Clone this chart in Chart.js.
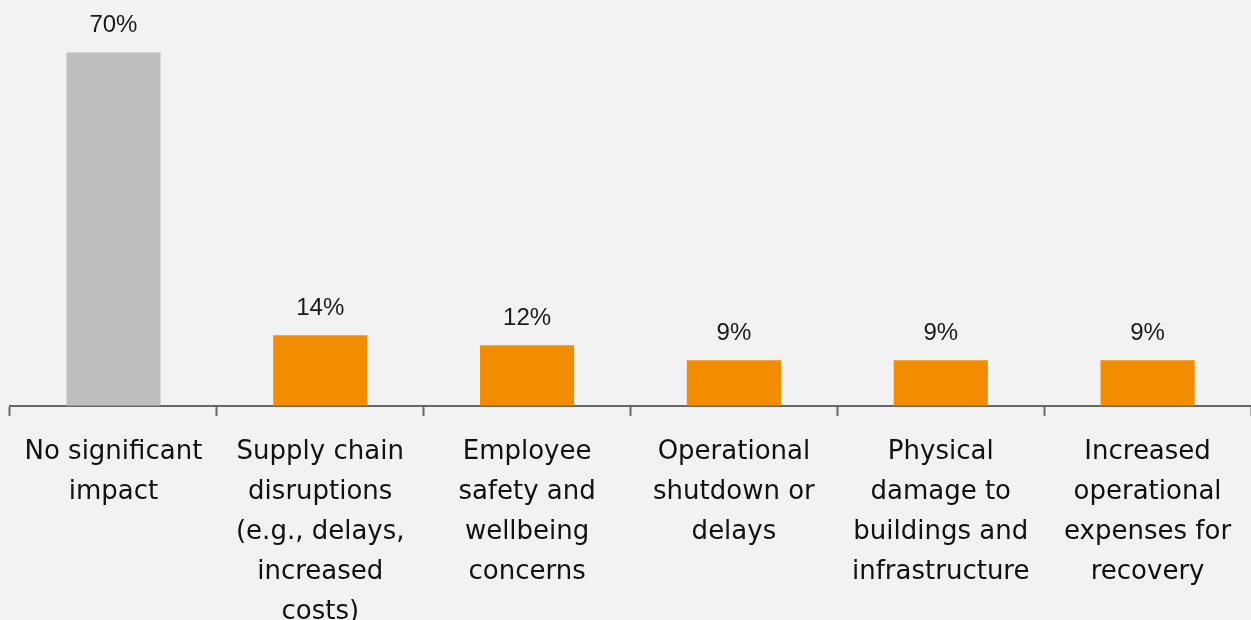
<!DOCTYPE html>
<html lang="en">
<head>
    <meta charset="UTF-8">
    <title>Business Impact</title>
    <style>
        body {
            margin: 0;
            background-color: #f2f2f2;
            overflow: hidden;
        }
        .chart-wrap {
            position: relative;
            width: 1251px;
            height: 648px;
        }
    </style>
    <script src="https://cdn.jsdelivr.net/npm/chart.js"></script>
</head>
<body>
    <div class="chart-wrap">
        <canvas id="impactChart"></canvas>
    </div>

    <script>
        // Categories (already split into lines)
        const categories = [
            ['No significant', 'impact'],
            ['Supply chain', 'disruptions', '(e.g., delays,', 'increased', 'costs)'],
            ['Employee', 'safety and', 'wellbeing', 'concerns'],
            ['Operational', 'shutdown or', 'delays'],
            ['Physical', 'damage to', 'buildings and', 'infrastructure'],
            ['Increased', 'operational', 'expenses for', 'recovery']
        ];

        // Share of respondents (%)
        const shares = [70, 14, 12, 9, 9, 9];

        const barColors = ['#bdbec0', '#f28c00', '#f28c00', '#f28c00', '#f28c00', '#f28c00'];

        // Simple value labels above each bar
        const valueLabels = {
            id: 'valueLabels',
            afterDatasetsDraw(chart) {
                const ctx = chart.ctx;
                const meta = chart.getDatasetMeta(0);
                ctx.save();
                ctx.font = '24px "Liberation Sans", Arial, sans-serif';
                ctx.fillStyle = '#1a1a1a';
                ctx.textAlign = 'center';
                ctx.textBaseline = 'middle';
                meta.data.forEach((bar, i) => {
                    ctx.fillText(shares[i] + '%', bar.x, bar.y - 27);
                });
                ctx.restore();
            }
        };

        new Chart(document.getElementById('impactChart'), {
            type: 'bar',
            data: {
                labels: categories,
                datasets: [{
                    data: shares,
                    backgroundColor: barColors,
                    categoryPercentage: 1,
                    barPercentage: 0.455
                }]
            },
            options: {
                responsive: true,
                maintainAspectRatio: false,
                animation: false,
                layout: { padding: { left: 10, right: 0, top: 2 } },
                plugins: {
                    legend: { display: false },
                    tooltip: { enabled: false }
                },
                scales: {
                    x: {
                        grid: {
                            offset: true,
                            drawOnChartArea: false,
                            drawTicks: true,
                            tickLength: 10,
                            tickWidth: 2,
                            color: '#666666'
                        },
                        border: { display: true, color: '#666666', width: 2 },
                        ticks: {
                            color: '#111111',
                            padding: 16,
                            maxRotation: 0,
                            autoSkip: false,
                            font: { family: '"DejaVu Sans", sans-serif', size: 26, lineHeight: 1.54 }
                        }
                    },
                    y: {
                        display: false,
                        min: 0,
                        max: 80
                    }
                }
            },
            plugins: [valueLabels]
        });
    </script>
</body>
</html>
